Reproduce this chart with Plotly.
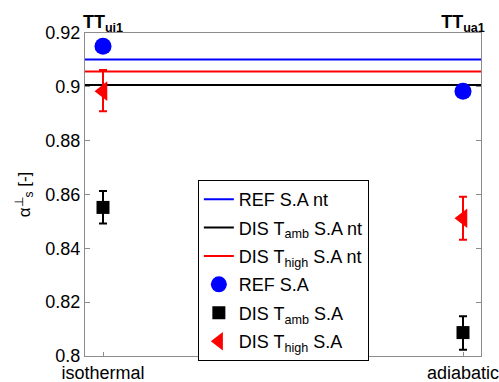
import plotly.graph_objects as go

# ---- data ----
categories = ["isothermal", "adiabatic"]
top_labels = ["TT<sub>ui1</sub>", "TT<sub>ua1</sub>"]
x_pos = [1, 2]

ref_nt = 0.9102
dis_amb_nt = 0.9007
dis_high_nt = 0.9057

ref_sa = [0.9151, 0.8984]
dis_amb_sa = [0.8552, 0.8087]
dis_amb_up = [0.0061, 0.0061]
dis_amb_dn = [0.0060, 0.0064]
dis_high_sa = [0.8984, 0.8512]
dis_high_up = [0.0079, 0.0080]
dis_high_dn = [0.0075, 0.0080]

y_ticks = [0.8, 0.82, 0.84, 0.86, 0.88, 0.9, 0.92]
y_ticktext = ["0.8", "0.82", "0.84", "0.86", "0.88", "0.9", "0.92"]

x_range = [0.95, 2.05]
y_range = [0.8, 0.92]

FONT = "Liberation Sans, Arial, sans-serif"

fig = go.Figure()

def hline(val, name, color, grp):
    fig.add_trace(go.Scatter(x=x_range, y=[val, val], mode="lines", name=name,
                             line=dict(color=color, width=2), legendgroup=grp))

hline(ref_nt, "REF S.A nt", "#0000ff", "a")
hline(dis_amb_nt, "DIS T<sub>amb</sub> S.A nt", "#000000", "b")
hline(dis_high_nt, "DIS T<sub>high</sub> S.A nt", "#ff0000", "c")

fig.add_trace(go.Scatter(x=x_pos, y=ref_sa, mode="markers", name="REF S.A",
                         marker=dict(symbol="circle", size=17, color="#0000ff"),
                         legendgroup="d"))
fig.add_trace(go.Scatter(x=x_pos, y=dis_amb_sa, mode="markers", name="DIS T<sub>amb</sub> S.A",
                         marker=dict(symbol="square", size=13, color="#000000"),
                         error_y=dict(type="data", array=dis_amb_up, arrayminus=dis_amb_dn,
                                      color="#000000", thickness=2, width=4),
                         legendgroup="e"))
fig.add_trace(go.Scatter(x=x_pos, y=dis_high_sa, mode="markers", name="DIS T<sub>high</sub> S.A",
                         marker=dict(symbol="triangle-left", size=17, color="#ff0000"),
                         error_y=dict(type="data", array=dis_high_up, arrayminus=dis_high_dn,
                                      color="#ff0000", thickness=2, width=4),
                         legendgroup="f"))

# invisible trace to anchor top axis
fig.add_trace(go.Scatter(x=x_pos, y=[None, None], xaxis="x2", showlegend=False,
                         hoverinfo="skip", mode="markers"))

axis_color = "#8c8c8c"
fig.update_layout(
    width=499, height=382,
    margin=dict(l=85, r=18, t=33, b=26),
    paper_bgcolor="white", plot_bgcolor="white",
    font=dict(family=FONT, size=18, color="black"),
    showlegend=True,
    legend=dict(x=0.285, y=0.545, xanchor="left", yanchor="top",
                bordercolor="black", borderwidth=1, bgcolor="white",
                font=dict(size=18), tracegroupgap=2, itemwidth=30),
    xaxis=dict(range=x_range, tickvals=x_pos, ticktext=categories, automargin=False,
               ticklabeloverflow="allow",
               showgrid=False, zeroline=False, showline=True, linecolor=axis_color,
               linewidth=1, mirror=True, ticks="inside", ticklen=4, tickcolor=axis_color),
    xaxis2=dict(range=x_range, overlaying="x", side="top", tickvals=x_pos, automargin=False,
                ticklabeloverflow="allow",
                ticktext=["<b>" + t + "</b>" for t in top_labels],
                showgrid=False, zeroline=False, showline=False, ticks="",
                tickfont=dict(size=18)),
    yaxis=dict(range=y_range, tickvals=y_ticks, ticktext=y_ticktext, automargin=False,
               showgrid=False, zeroline=False, showline=True, linecolor=axis_color,
               linewidth=1, mirror="ticks", ticks="inside", ticklen=5, tickcolor=axis_color,
               title=dict(text="α<sup>⊥</sup><sub>s</sub> [-]", font=dict(size=17), standoff=10)),
)

fig.write_html("out.html", config={"displayModeBar": False},
               post_script="document.body.style.margin='0';")
